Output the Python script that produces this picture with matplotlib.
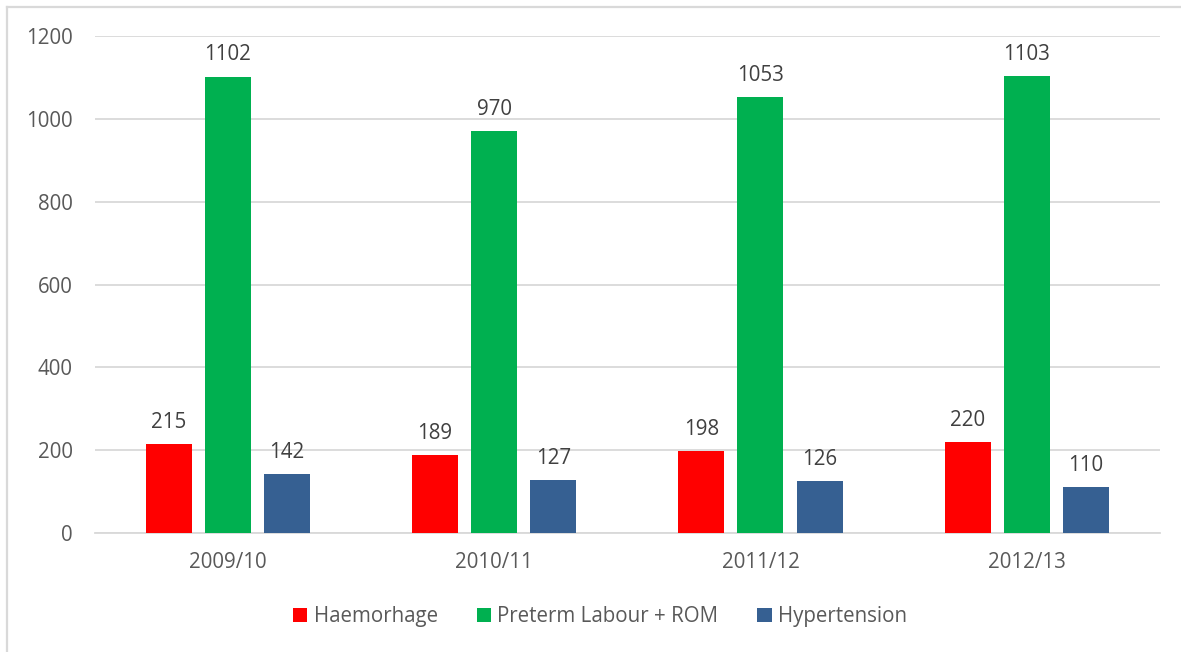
import matplotlib.pyplot as plt
from matplotlib.lines import Line2D
import numpy as np

plt.rcParams['font.family'] = ['Open Sans', 'DejaVu Sans']

years = ['2009/10', '2010/11', '2011/12', '2012/13']
haemorhage = [215, 189, 198, 220]
preterm = [1102, 970, 1053, 1103]
hypertension = [142, 127, 126, 110]

series = [
    ('Haemorhage', haemorhage, '#FF0000'),
    ('Preterm Labour + ROM', preterm, '#00B050'),
    ('Hypertension', hypertension, '#366092'),
]

fig = plt.figure(figsize=(11.81, 6.52), dpi=100)
ax = fig.add_axes([0.0804, 0.1825, 0.9016, 0.7623])

x = np.arange(len(years))
width = 0.173
step = 0.222
for i, (name, vals, color) in enumerate(series):
    bars = ax.bar(x + (i - 1) * step, vals, width, color=color, label=name, zorder=3)
    ax.bar_label(bars, padding=8, fontsize=14.8, color='#404040')

ax.set_xlim(-0.5, len(years) - 0.5)
ax.set_ylim(0, 1200)
ax.set_yticks(range(0, 1201, 200))
ax.set_xticks(x)
ax.set_xticklabels(years)
ax.tick_params(axis='both', length=0, labelsize=14.8, labelcolor='#595959')
ax.tick_params(axis='y', pad=16)
ax.tick_params(axis='x', pad=14)
ax.grid(axis='y', color='#D9D9D9', linewidth=1.3, zorder=0)
for s in ['top', 'right', 'left']:
    ax.spines[s].set_visible(False)
ax.spines['bottom'].set_color('#D9D9D9')
ax.spines['bottom'].set_linewidth(1.3)

leg = fig.legend(loc='center', bbox_to_anchor=(0.508, 0.054), ncol=3, frameon=False,
                 fontsize=14.8, handlelength=0.7, handleheight=0.7, handletextpad=0.3,
                 columnspacing=1.9, labelcolor='#595959')

# outer chart frame (top and left edges visible)
fig.add_artist(Line2D([7 / 1181, 1], [1 - 7 / 652, 1 - 7 / 652], transform=fig.transFigure,
                      color='#D9D9D9', linewidth=1.6))
fig.add_artist(Line2D([7 / 1181, 7 / 1181], [0, 1 - 7 / 652], transform=fig.transFigure,
                      color='#D9D9D9', linewidth=1.6))

fig.savefig('out.png', dpi=100)
